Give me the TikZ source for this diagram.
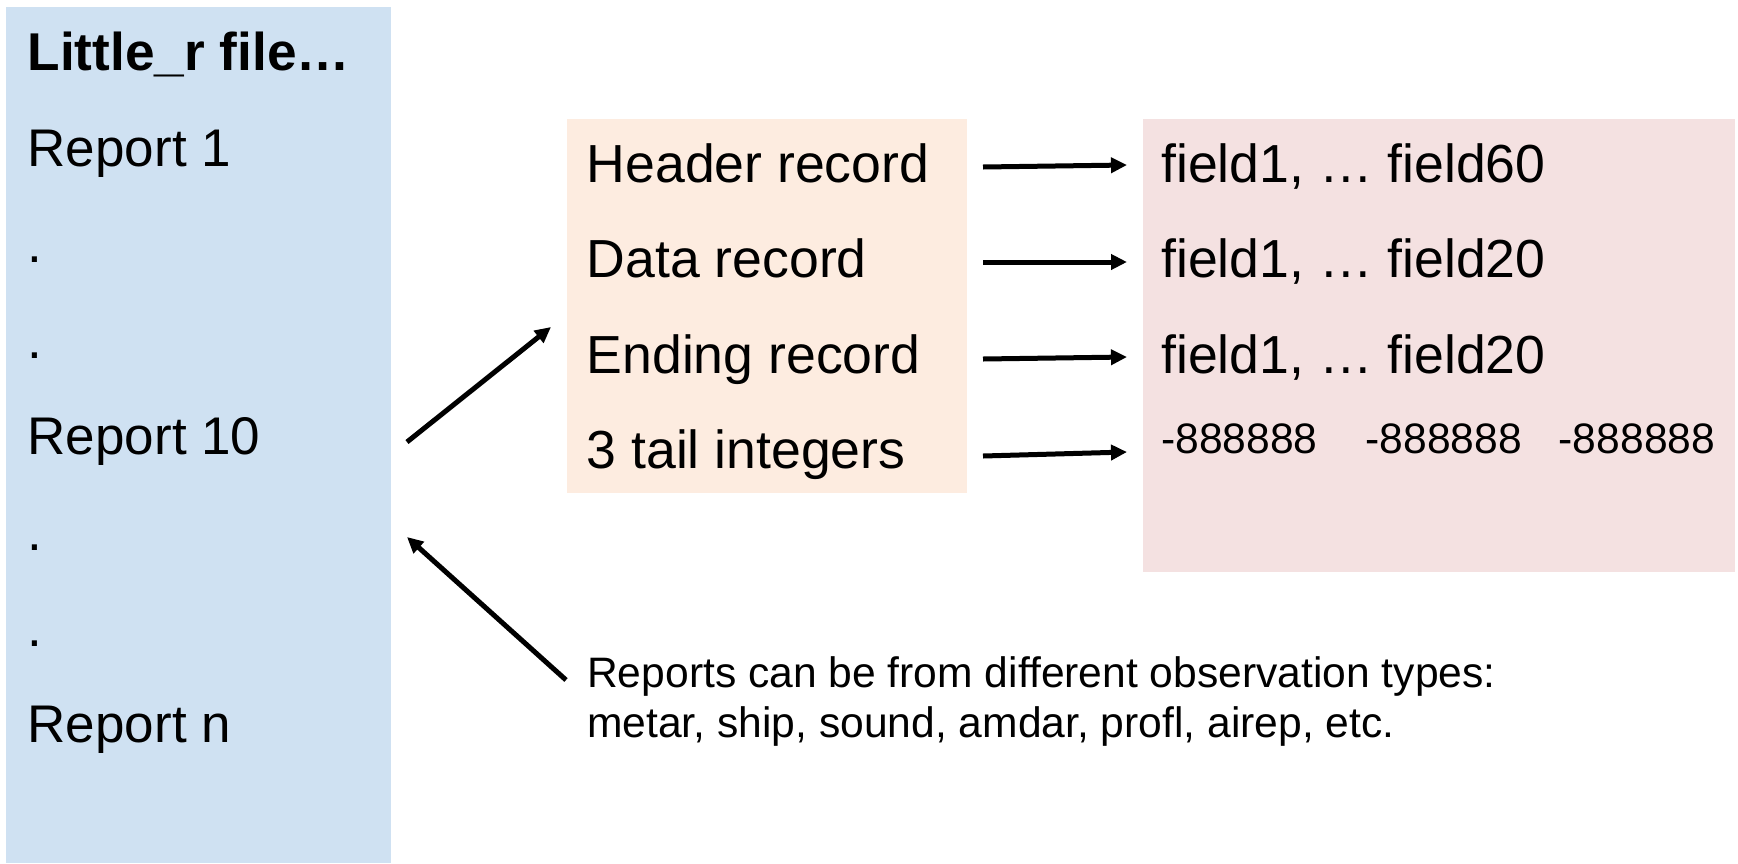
\documentclass[tikz,border=0pt]{standalone}
\usepackage{fontspec}
\setmainfont{Liberation Sans}
\usetikzlibrary{arrows.meta}
\definecolor{fileblue}{RGB}{207,225,242}
\definecolor{recpeach}{RGB}{253,236,224}
\definecolor{fieldpink}{RGB}{244,225,225}
\tikzset{
  bigtxt/.style={font=\fontsize{53}{60}\selectfont, inner sep=0pt, anchor=base west},
  rowtxt/.style={font=\fontsize{53.6}{60}\selectfont, inner sep=0pt, anchor=base west},
  smalltxt/.style={font=\fontsize{42.6}{50}\selectfont, inner sep=0pt, anchor=base west},
  arr/.style={line width=5pt, -{Triangle[length=16pt,width=15pt]}},
  panel/.style={inner sep=0pt, anchor=north west, draw=none}
}
\begin{document}
\begin{tikzpicture}[x=1pt,y=-1pt]
\useasboundingbox (0,0) rectangle (1738,863);
% panels
\node[panel, fill=fileblue, minimum width=385pt, minimum height=856pt] (file) at (6,7) {};
\node[panel, fill=recpeach, minimum width=400pt, minimum height=374pt] (rec) at (567,119) {};
\node[panel, fill=fieldpink, minimum width=592pt, minimum height=453pt] (fld) at (1143,119) {};
% file column
\node[bigtxt, font=\fontsize{53.2}{60}\selectfont\bfseries] (title) at (27.5,70) {Little\_r file…};
\node[bigtxt] (r1) at (27.5,166.1) {Report 1};
\node[bigtxt] (d1) at (27.5,262.2) {.};
\node[bigtxt] (d2) at (27.5,358.3) {.};
\node[bigtxt] (r10) at (27.5,454.4) {Report 10};
\node[bigtxt] (d3) at (27.5,550.5) {.};
\node[bigtxt] (d4) at (27.5,646.6) {.};
\node[bigtxt] (rn) at (27.5,742.7) {Report n};
% record column
\node[rowtxt] (hdr) at (586.5,182) {Header record};
\node[rowtxt] (dat) at (586.5,277.5) {Data record};
\node[rowtxt] (endr) at (586.5,373) {Ending record};
\node[rowtxt] (tail) at (586.5,468) {3 tail integers};
% field column
\node[rowtxt] (f1) at (1161,182) {field1, … field60};
\node[rowtxt] (f2) at (1161,277.5) {field1, … field20};
\node[rowtxt] (f3) at (1161,373) {field1, … field20};
\node[smalltxt] (f4) at (1161,453) {-888888\hspace{48pt}-888888\hspace{37pt}-888888};
% note
\node[smalltxt] (note1) at (587,687) {Reports can be from different observation types:};
\node[smalltxt] (note2) at (587,737) {metar, ship, sound, amdar, profl, airep, etc.};
% connector end points
\coordinate (a1s) at (983,167);   \coordinate (a1e) at (1127,165);
\coordinate (a2s) at (983,262);   \coordinate (a2e) at (1127,262);
\coordinate (a3s) at (983,359);   \coordinate (a3e) at (1127,357);
\coordinate (a4s) at (983,456);   \coordinate (a4e) at (1127,452);
\coordinate (b1s) at (407,442);   \coordinate (b1e) at (551,327);
\coordinate (b2s) at (566,680);   \coordinate (b2e) at (407,537);
\draw[arr] (a1s) -- (a1e);
\draw[arr] (a2s) -- (a2e);
\draw[arr] (a3s) -- (a3e);
\draw[arr] (a4s) -- (a4e);
\draw[arr] (b1s) -- (b1e);
\draw[arr] (b2s) -- (b2e);
\end{tikzpicture}
\end{document}
